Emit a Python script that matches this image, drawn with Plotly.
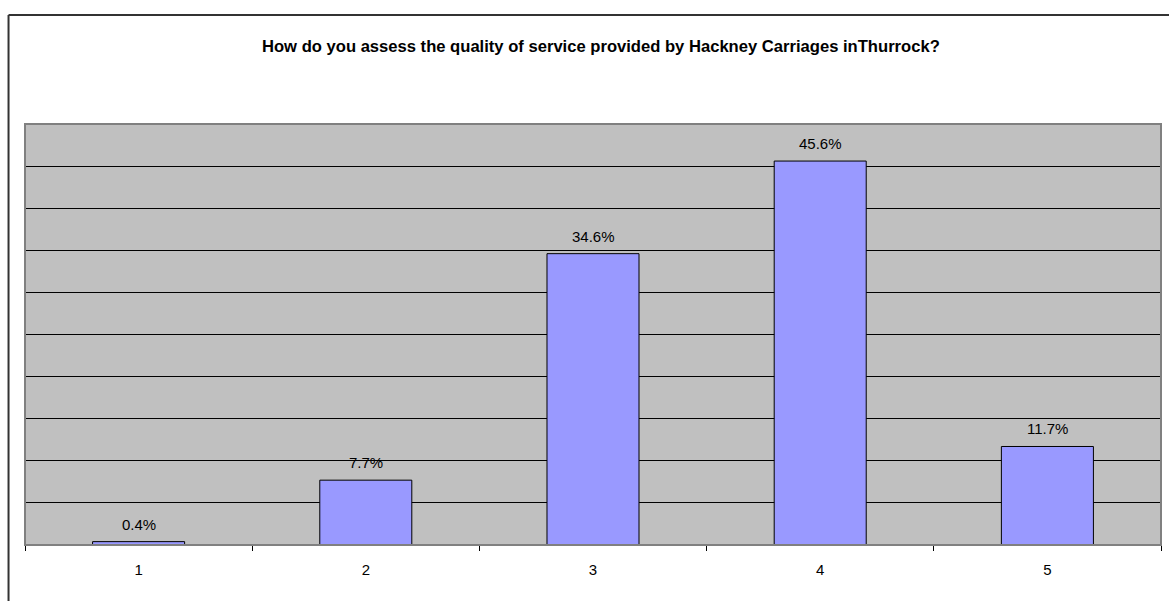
import plotly.graph_objects as go

# Survey results: rating of Hackney Carriage service (1 = worst, 5 = best)
categories = ["1", "2", "3", "4", "5"]
percentages = [0.4, 7.7, 34.6, 45.6, 11.7]
title_text = "How do you assess the quality of service provided by Hackney Carriages inThurrock?"

FONT = "Liberation Sans, Arial, sans-serif"

fig = go.Figure(
    go.Bar(
        x=categories,
        y=percentages,
        marker=dict(color="#9999FF", line=dict(color="#000000", width=1)),
        hoverinfo="skip",
    )
)

# value labels above each bar (category axis positions are indices)
for idx, val in enumerate(percentages):
    fig.add_annotation(
        x=idx, y=val, text=f"{val:.1f}%", showarrow=False,
        yanchor="bottom", yshift=7,
        font=dict(family=FONT, size=15, color="#000000"),
    )

# chart title
fig.add_annotation(
    x=0.5067, y=1.185, xref="paper", yref="paper", text=f"<b>{title_text}</b>",
    showarrow=False, xanchor="center", yanchor="middle",
    font=dict(family=FONT, size=16.6, color="#000000"),
)

# grey border around the plot area
fig.add_shape(type="rect", xref="paper", yref="paper", x0=0, x1=1, y0=0, y1=1,
              line=dict(color="#808080", width=2), layer="above")
# outer chart frame (left and top edges)
fig.add_shape(type="line", xref="paper", yref="paper", x0=-0.0145, x1=-0.0145,
              y0=1.259, y1=-0.2, line=dict(color="#333333", width=2))
fig.add_shape(type="line", xref="paper", yref="paper", x0=-0.0145, x1=1.05,
              y0=1.259, y1=1.259, line=dict(color="#333333", width=2))

fig.update_layout(
    width=1169, height=601,
    margin=dict(l=25, r=8, t=124, b=56),
    paper_bgcolor="#FFFFFF",
    plot_bgcolor="#C0C0C0",
    bargap=0.595,
    showlegend=False,
    font=dict(family=FONT, size=15, color="#000000"),
)
fig.update_xaxes(
    type="category",
    showline=True, linecolor="#000000", linewidth=1,
    ticks="outside", tickson="boundaries", ticklen=5, tickcolor="#000000",
    ticklabelstandoff=11,
    tickfont=dict(family=FONT, size=15, color="#000000"),
    showgrid=False,
)
fig.update_yaxes(
    range=[0, 50], dtick=5,
    showticklabels=False, ticks="",
    showgrid=True, gridcolor="#000000", gridwidth=1,
    zeroline=False, showline=False,
)

fig.write_html("out.html")
